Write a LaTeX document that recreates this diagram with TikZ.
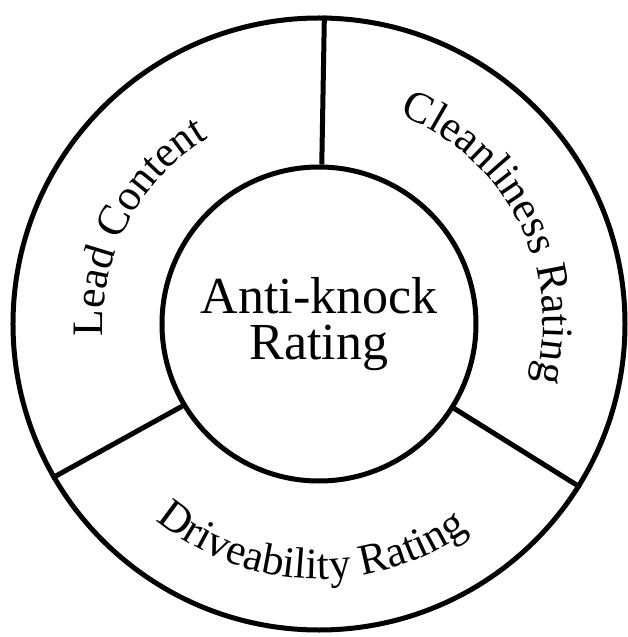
\documentclass[tikz,border=0pt]{standalone}
\usepackage{fontspec}
\setmainfont{Liberation Serif}
\usetikzlibrary{decorations.text}
\newcommand{\ringfont}{\fontsize{43.5}{43.5}\selectfont}
\tikzset{
	arcword/.style={decorate, decoration={text along path, text align=center, text={#1}}},
}
\begin{document}
\begin{tikzpicture}[x=1pt, y=1pt, line width=5pt]
	\useasboundingbox (-319,-313) rectangle (308,324);
	\node[circle, draw, minimum size=612pt, inner sep=0pt] (ring) at (0,0) {};
	\node[circle, draw, minimum size=314pt, inner sep=0pt, align=center, font=\fontsize{52}{46}\selectfont] (core) at (0,0) {Anti-knock\\Rating};
	% dividers
	\draw (core.89) -- (ring.89);
	\draw (core.211) -- (ring.210);
	\draw (core.-32) -- (ring.-32);
	% curved labels
	\path[arcword={|\ringfont|Lead Content}] (242:216) arc[start angle=242, end angle=62, radius=216];
	\path[arcword={|\ringfont|Cleanliness Rating}] (117:224) arc[start angle=117, end angle=-63, radius=224];
	\path[arcword={|\ringfont|Driveability Rating}] (178:255) arc[start angle=178, end angle=358, radius=255];
\end{tikzpicture}
\end{document}
